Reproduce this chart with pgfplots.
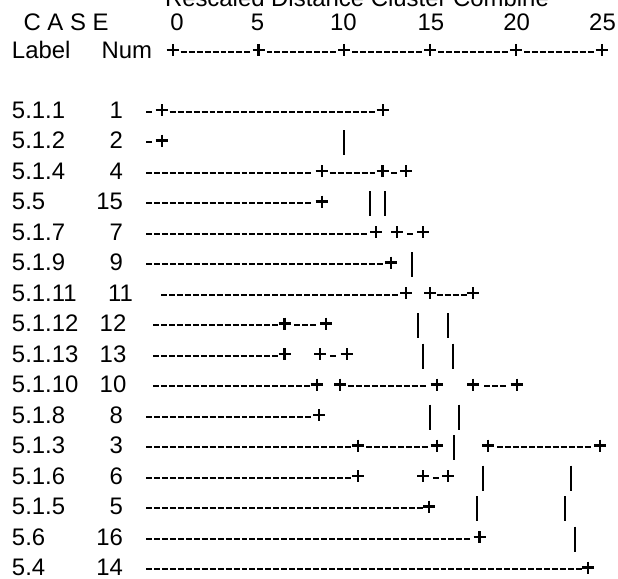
\documentclass[border=0pt]{standalone}
\usepackage{fontspec}
\setmainfont{Liberation Sans}
\usepackage{pgfplots}
\pgfplotsset{compat=1.18}
\usepackage{pgfplotstable}

% dash runs (x y), segments separated by nan rows
\pgfplotstableread{
x y
180.7 51.7
250.34 51.7
nan nan
266.5 51.7
336.14 51.7
nan nan
352.3 51.7
421.94 51.7
nan nan
438.1 51.7
507.74 51.7
nan nan
523.9 51.7
593.54 51.7
nan nan
146 111.7
151.96 111.7
nan nan
169.7 111.7
374.66 111.7
nan nan
146 142.2
151.96 142.2
nan nan
146 172.7
311.16 172.7
nan nan
329.7 172.7
375.46 172.7
nan nan
391.3 172.7
397.26 172.7
nan nan
146 203.2
311.16 203.2
nan nan
146 233.7
366.88 233.7
nan nan
407.3 233.7
413.26 233.7
nan nan
146 264.2
382.8 264.2
nan nan
161 294.7
397.8 294.7
nan nan
436.75 294.7
466.59 294.7
nan nan
153 325.2
278.36 325.2
nan nan
294.3 325.2
316.18 325.2
nan nan
153 355.7
278.36 355.7
nan nan
330.4 355.7
336.36 355.7
nan nan
153 386.2
310.2 386.2
nan nan
348 386.2
425.6 386.2
nan nan
484.06 386.2
505.94 386.2
nan nan
146 416.7
311.16 416.7
nan nan
146 447.2
350.96 447.2
nan nan
366 447.2
427.68 447.2
nan nan
497 447.2
590.52 447.2
nan nan
146 477.7
350.96 477.7
nan nan
432.8 477.7
438.76 477.7
nan nan
146 508.2
422.6 508.2
nan nan
146 538.7
470.36 538.7
nan nan
146 569.2
581.8 569.2
}\dashruns

\pgfplotstableread{
x y
172.7 50
258.5 50
344.3 50
430.1 50
515.9 50
601.7 50
161.7 110
382.7 110
161.7 140.5
321.7 171
382.5 171
406 171
321.7 201.5
376 232
397.3 232
423.3 232
390.8 262.5
406 293
430 293
473.3 293
284.5 323.5
326 323.5
284.5 354
320 354
346.7 354
316.7 384.5
340 384.5
436.7 384.5
473.3 384.5
516.7 384.5
319 415
358 445.5
436.7 445.5
488 445.5
600 445.5
358 476
423.3 476
448.3 476
429 506.5
479.5 537
588.3 567.5
}\plusmarks

\pgfplotstableread{
x y
344.3 142.5
370 203.5
385 203.5
412 264.5
418.3 325.5
447.7 325.5
423.3 356
452.7 356
430 417
459.3 417
454 447.5
482.7 478
570.7 478
476.7 508.5
565 508.5
575 539
}\barmarks

\begin{document}
\begin{tikzpicture}
\tikzset{every node/.style={font=\fontsize{23.9}{28}\selectfont, inner sep=0pt, outer sep=0pt}}
\begin{axis}[hide axis, scale only axis, width=618pt, height=578pt,
  xmin=0, xmax=618, ymin=0, ymax=578, y dir=reverse, clip=false,
  unbounded coords=jump]
\addplot[black, line width=1.9pt, dash pattern=on 5.96pt off 2pt] table[x=x,y=y] {\dashruns};
\addplot[only marks, mark=+, mark size=6pt, mark options={solid, line width=2.15pt, black}] table[x=x,y=y] {\plusmarks};
\addplot[only marks, mark=|, mark size=12.5pt, mark options={solid, line width=1.9pt, black}] table[x=x,y=y] {\barmarks};

% title and header
\node[anchor=base west] at (axis cs:165,7) {Rescaled Distance Cluster Combine};
\node[anchor=base west] at (axis cs:23.6,30.7) {C A S E};
\node[anchor=base] at (axis cs:177,30.7) {0};
\node[anchor=base] at (axis cs:257.5,30.7) {5};
\node[anchor=base] at (axis cs:343.3,30.7) {10};
\node[anchor=base] at (axis cs:430.8,30.7) {15};
\node[anchor=base] at (axis cs:516.7,30.7) {20};
\node[anchor=base] at (axis cs:602.5,30.7) {25};
\node[anchor=base west] at (axis cs:12,58.3) {Label};
\node[anchor=base west] at (axis cs:101.5,58.3) {Num};

% case labels
\node[anchor=base west] at (axis cs:12,118.2) {5.1.1};
\node[anchor=base west] at (axis cs:12,148.7) {5.1.2};
\node[anchor=base west] at (axis cs:12,179.2) {5.1.4};
\node[anchor=base west] at (axis cs:12,209.7) {5.5};
\node[anchor=base west] at (axis cs:12,240.2) {5.1.7};
\node[anchor=base west] at (axis cs:12,270.7) {5.1.9};
\node[anchor=base west] at (axis cs:12,301.2) {5.1.11};
\node[anchor=base west] at (axis cs:12,331.7) {5.1.12};
\node[anchor=base west] at (axis cs:12,362.2) {5.1.13};
\node[anchor=base west] at (axis cs:12,392.7) {5.1.10};
\node[anchor=base west] at (axis cs:12,423.2) {5.1.8};
\node[anchor=base west] at (axis cs:12,453.7) {5.1.3};
\node[anchor=base west] at (axis cs:12,484.2) {5.1.6};
\node[anchor=base west] at (axis cs:12,514.7) {5.1.5};
\node[anchor=base west] at (axis cs:12,545.2) {5.6};
\node[anchor=base west] at (axis cs:12,575.2) {5.4};

% case numbers
\node[anchor=base east] at (axis cs:123,118.2) {1};
\node[anchor=base east] at (axis cs:123,148.7) {2};
\node[anchor=base east] at (axis cs:123,179.2) {4};
\node[anchor=base east] at (axis cs:123,209.7) {15};
\node[anchor=base east] at (axis cs:123,240.2) {7};
\node[anchor=base east] at (axis cs:123,270.7) {9};
\node[anchor=base east] at (axis cs:133,301.2) {11};
\node[anchor=base east] at (axis cs:126.3,331.7) {12};
\node[anchor=base east] at (axis cs:126.3,362.2) {13};
\node[anchor=base east] at (axis cs:126.3,392.7) {10};
\node[anchor=base east] at (axis cs:123,423.2) {8};
\node[anchor=base east] at (axis cs:123,453.7) {3};
\node[anchor=base east] at (axis cs:123,484.2) {6};
\node[anchor=base east] at (axis cs:123,514.7) {5};
\node[anchor=base east] at (axis cs:123,545.2) {16};
\node[anchor=base east] at (axis cs:123,575.2) {14};
\end{axis}
\pgfresetboundingbox
\useasboundingbox (current axis.south west) rectangle (current axis.north east);
\end{tikzpicture}
\end{document}
